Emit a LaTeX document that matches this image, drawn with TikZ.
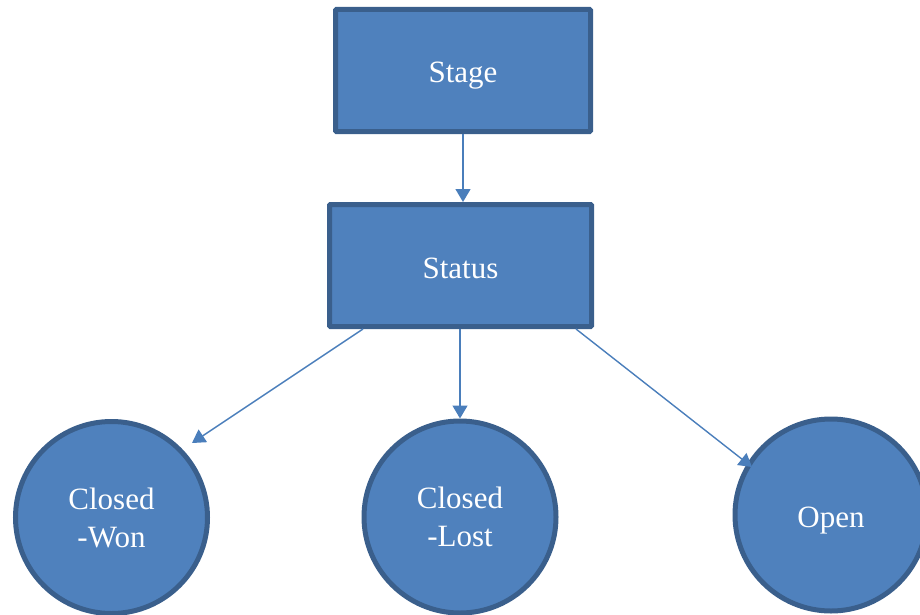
\documentclass[tikz,border=0pt]{standalone}
\usepackage{fontspec}
\setmainfont{Liberation Serif}
\usetikzlibrary{arrows.meta,calc}
\definecolor{boxfill}{HTML}{4F81BD}
\definecolor{boxline}{HTML}{3A5F8C}
\definecolor{linkcol}{HTML}{4A7EBB}
\tikzset{
  label text/.style={text=white, font=\fontsize{31}{38}\selectfont, align=center},
  one line/.style={text height=30pt, text depth=5pt},
  stagebox/.style={rectangle, draw=boxline, fill=boxfill, line width=5pt, rounded corners=1pt,
    minimum width=255pt, minimum height=122pt, label text, one line},
  statusbox/.style={stagebox, minimum width=262pt},
  leafnode/.style={circle, draw=boxline, fill=boxfill, line width=5pt, minimum size=192pt, inner sep=0pt, label text},
  link/.style={draw=linkcol, line width=1.4pt, -{Triangle[length=13pt,width=15pt]}}
}
\begin{document}
\begin{tikzpicture}[x=1pt,y=-1pt]
  \useasboundingbox (0,0) rectangle (920,615);
  \clip (0,0) rectangle (920,615);
  \node[stagebox]  (stage)  at (463,70.5)  {Stage};
  \node[statusbox] (status) at (460.5,265.5) {Status};
  \node[leafnode]  (won)    at (111.5,517.5) {Closed\\-Won};
  \node[leafnode]  (lost)   at (460,517)   {Closed\\-Lost};
  \node[leafnode, one line] (open) at (831,515) {Open};
  % connectors
  \draw[link] (stage.south) -- (stage.south |- status.north);
  \draw[link] ([xshift=36pt]status.south west) -- ([shift={(80.5pt,74.5pt)}]won.center);
  \draw[link] (status.south -| lost.north) -- (lost.north);
  \draw[link] ([xshift=-18pt]status.south east) -- ([shift={(-79pt,48pt)}]open.center);
\end{tikzpicture}
\end{document}
